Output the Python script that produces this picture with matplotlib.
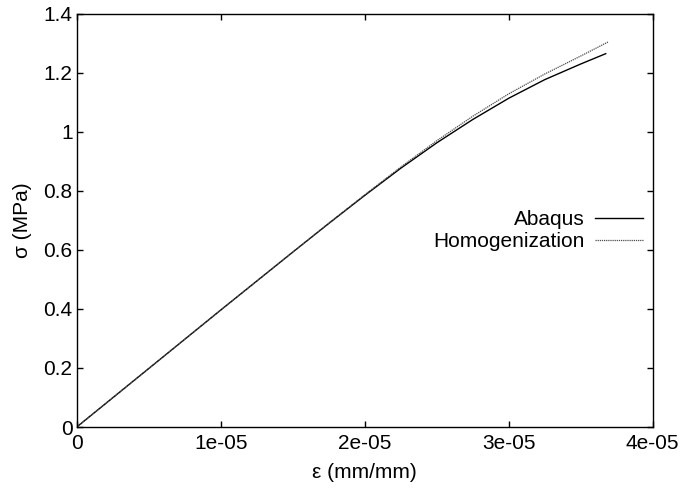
import numpy as np
import matplotlib
matplotlib.use('Agg')
import matplotlib.pyplot as plt

plt.rcParams['font.family'] = ['Liberation Sans', 'DejaVu Sans']

# strain values (mm/mm) and stresses (MPa)
eps_abaqus = [0, 0.5e-5, 1.0e-5, 1.5e-5, 1.75e-5, 2.0e-5, 2.25e-5, 2.5e-5, 2.75e-5,
              3.0e-5, 3.25e-5, 3.5e-5, 3.674e-5]
sig_abaqus = [0, 0.198, 0.396, 0.592, 0.689, 0.784, 0.876, 0.962, 1.041,
              1.113, 1.176, 1.229, 1.264]

eps_homog = [0, 0.5e-5, 1.0e-5, 1.5e-5, 1.75e-5, 2.0e-5, 2.25e-5, 2.5e-5, 2.75e-5,
             3.0e-5, 3.25e-5, 3.5e-5, 3.692e-5]
sig_homog = [0, 0.198, 0.396, 0.592, 0.690, 0.786, 0.880, 0.969, 1.052,
             1.128, 1.195, 1.256, 1.304]

xticks = [0, 1e-5, 2e-5, 3e-5, 4e-5]
xtick_labels = ['0', '1e-05', '2e-05', '3e-05', '4e-05']
yticks = [0, 0.2, 0.4, 0.6, 0.8, 1.0, 1.2, 1.4]
ytick_labels = ['0', '0.2', '0.4', '0.6', '0.8', '1', '1.2', '1.4']

fig = plt.figure(figsize=(6.82, 4.91), dpi=100)
ax = fig.add_subplot(111)
fig.subplots_adjust(left=0.1125, right=0.957, bottom=0.1303, top=0.9725)

ax.plot(eps_abaqus, sig_abaqus, color='black', linewidth=1.0, label='Abaqus')
ax.plot(eps_homog, sig_homog, color='0.3', linewidth=0.9, linestyle=(0, (1, 0.7)),
        label='Homogenization')

ax.set_xlim(0, 4e-5)
ax.set_ylim(0, 1.4)
ax.set_xticks(xticks)
ax.set_xticklabels(xtick_labels)
ax.set_yticks(yticks)
ax.set_yticklabels(ytick_labels)

ax.tick_params(direction='in', top=True, right=True, length=4, width=1,
               labelsize=15)
ax.tick_params(axis='x', pad=5)
ax.tick_params(axis='y', pad=3)
for s in ax.spines.values():
    s.set_linewidth(1.0)

ax.set_xlabel('ε (mm/mm)', fontsize=15, labelpad=7)
ax.set_ylabel('σ (MPa)', fontsize=15, labelpad=8)

ax.legend(loc='center right', bbox_to_anchor=(0.983, 0.475), frameon=False,
          markerfirst=False, fontsize=15, handlelength=2.3, handletextpad=0.5,
          labelspacing=0.15, borderpad=0, borderaxespad=0)

fig.savefig('out.png', dpi=100)
